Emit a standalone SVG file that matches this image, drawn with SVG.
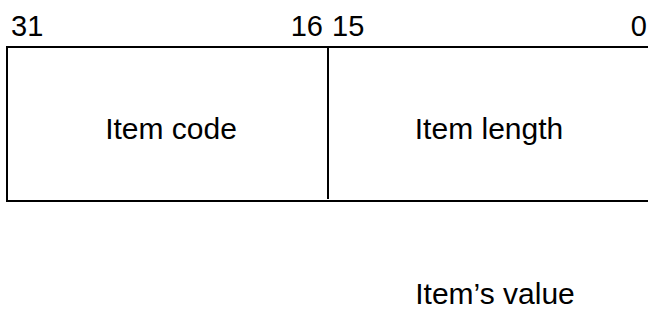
<svg xmlns="http://www.w3.org/2000/svg" width="648" height="323" viewBox="0 0 648 323">
<style>
text{font-family:"Liberation Sans",Arial,sans-serif;fill:#000}
.bit{font-size:29px}
.lbl{font-size:30px;text-anchor:middle}
.ln{stroke:#000;stroke-width:2;fill:none}
</style>
<rect width="648" height="323" fill="#fff"/>
<g id="bits">
<text class="bit" x="11" y="36">31</text>
<text class="bit" x="323" y="36" text-anchor="end">16</text>
<text class="bit" x="332" y="36">15</text>
<text class="bit" x="647" y="36" text-anchor="end">0</text>
</g>
<g id="header">
<path class="ln" d="M650,47 H7 V201 H650"/>
</g>
<g id="connectors">
<line class="ln" x1="328" y1="48" x2="328" y2="199"/>
</g>
<g id="item-code"><text class="lbl" x="171" y="139">Item code</text></g>
<g id="item-length"><text class="lbl" x="489" y="139">Item length</text></g>
<g id="item-value"><text class="lbl" x="495" y="304">Item’s value</text></g>
</svg>
